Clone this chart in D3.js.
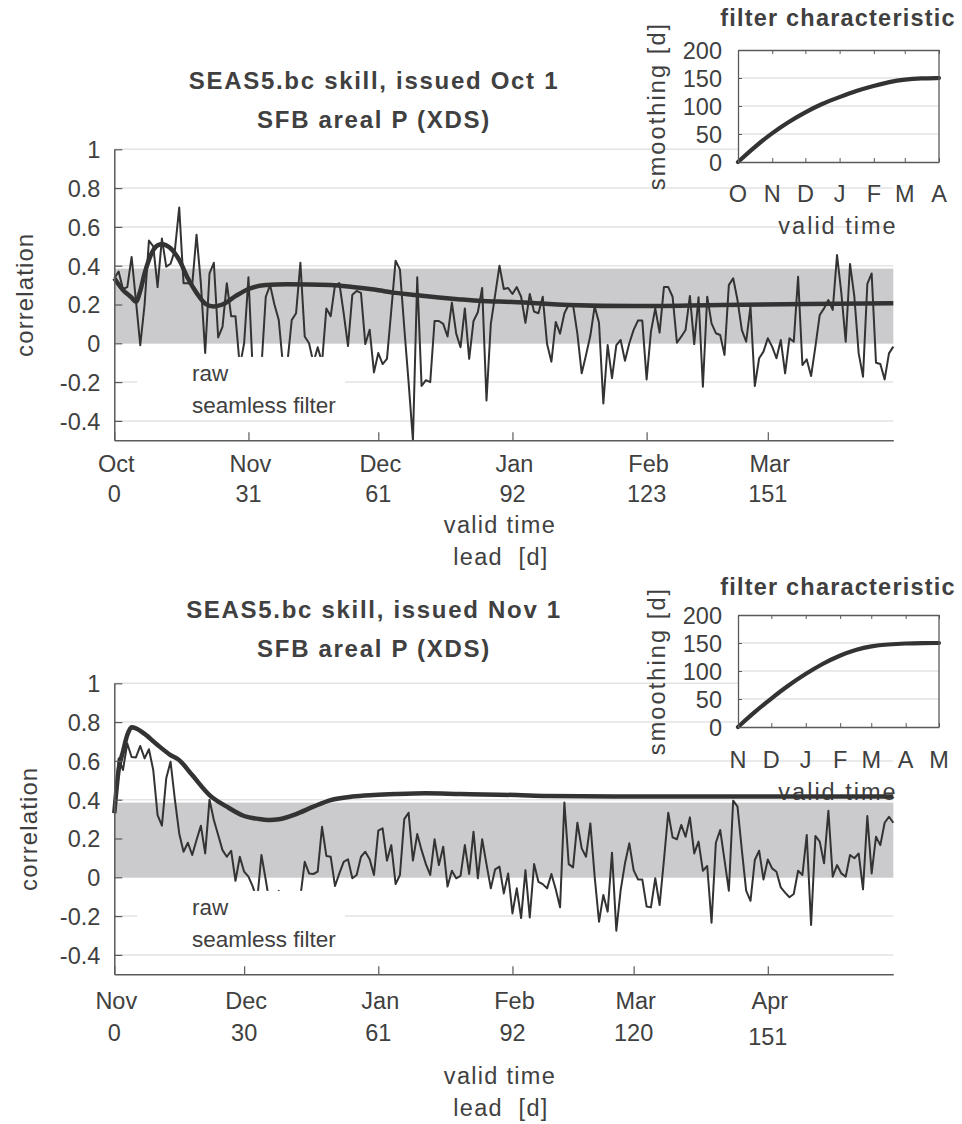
<!DOCTYPE html>
<html><head><meta charset="utf-8">
<script src="https://cdn.jsdelivr.net/npm/d3@7/dist/d3.min.js"></script>
<style>
body{margin:0;background:#fff;}
svg text{font-family:"Liberation Sans",Arial,sans-serif;fill:#404040;}
</style></head><body>
<svg id="c" width="962" height="1124"></svg>
<script>
// ---------------- DATA ----------------
const yTicks = [-0.4,-0.2,0,0.2,0.4,0.6,0.8,1];
const bandTop = 0.385;

// Panel 1: issued Oct 1
const title1 = ["SEAS5.bc skill, issued Oct 1", "SFB areal P (XDS)"];
const monthDays1 = [0,31,61,92,123,151];
const monthNames1 = ["Oct","Nov","Dec","Jan","Feb","Mar"];
const raw1 = [
0.335,0.37,0.28,0.29,0.445,0.22,-0.01,0.2,0.53,0.50,
0.29,0.54,0.395,0.41,0.48,0.70,0.31,0.31,0.30,0.56,
0.31,-0.05,0.36,0.415,0.03,0.085,0.31,0.14,0.14,-0.12,
0.0,0.34,-0.15,-0.2,-0.12,0.24,0.30,0.2,0.12,-0.12,
-0.1,0.12,0.155,0.415,0.035,0.0,-0.1,-0.02,-0.1,0.18,
0.14,0.30,0.31,0.155,-0.014,0.25,0.27,0.26,-0.004,0.07,
-0.15,-0.05,-0.107,-0.08,0.17,0.426,0.38,0.08,-0.2,-0.52,
0.34,-0.22,-0.19,-0.2,0.115,0.115,0.10,0.035,0.21,0.05,
-0.02,0.18,-0.08,0.115,0.16,0.285,-0.295,0.1,0.25,0.40,
0.28,0.285,0.254,0.29,0.24,0.106,0.254,0.163,0.155,0.24,
-0.004,-0.095,0.11,0.05,0.155,0.20,0.198,0.05,-0.155,-0.06,
0.04,0.19,0.106,-0.31,-0.009,-0.18,-0.009,0.017,-0.09,0.0,
0.069,0.117,0.117,-0.186,0.06,0.18,0.055,0.29,0.29,0.24,
0.003,0.034,0.069,0.244,-0.004,0.237,-0.224,0.24,0.103,0.052,
0.043,-0.06,0.30,0.335,0.223,0.069,0.008,0.19,-0.22,-0.077,
-0.043,0.026,-0.017,-0.077,0.017,-0.155,0.026,0.008,0.343,-0.112,
-0.083,-0.169,-0.017,0.146,0.18,0.223,0.172,0.455,0.258,0.008,
0.409,0.24,-0.052,-0.172,0.306,0.36,-0.10,-0.107,-0.186,-0.052,
-0.017];
const filtDays1 = [0,2,4,5,6,7,8,9,10,11,12,13,15,17,19,21,23,25,28,31,35,40,50,55,60,65,70,75,80,85,89,92,105,120,140,160,180];
const filtVals1 = [0.335,0.275,0.236,0.214,0.27,0.36,0.43,0.48,0.505,0.51,0.505,0.49,0.43,0.335,0.26,0.205,0.19,0.20,0.243,0.28,0.30,0.305,0.30,0.29,0.277,0.26,0.248,0.236,0.226,0.218,0.215,0.213,0.198,0.192,0.198,0.203,0.206];

// Panel 2: issued Nov 1
const title2 = ["SEAS5.bc skill, issued Nov 1", "SFB areal P (XDS)"];
const monthDays2 = [0,30,61,92,120,151];
const monthNames2 = ["Nov","Dec","Jan","Feb","Mar","Apr"];
const raw2 = [
0.338,0.613,0.553,0.69,0.62,0.618,0.677,0.613,0.66,0.553,
0.32,0.266,0.51,0.596,0.40,0.226,0.132,0.178,0.115,0.192,
0.266,0.123,0.40,0.295,0.218,0.14,0.106,0.137,-0.018,0.106,
0.029,0.003,-0.048,-0.12,0.115,-0.014,-0.15,-0.12,-0.07,-0.12,
-0.15,-0.12,-0.1,-0.1,0.08,0.02,0.017,0.029,0.26,0.11,
0.106,-0.045,0.02,0.08,0.093,-0.005,0.012,0.106,0.132,0.093,
0.012,0.24,0.252,0.086,0.166,-0.035,0.012,0.30,0.333,0.086,
0.223,0.14,0.068,0.012,0.196,0.063,0.158,-0.048,0.034,-0.005,
0.007,0.166,0.017,0.235,-0.005,0.196,0.068,-0.057,0.041,0.055,
-0.083,0.02,-0.186,-0.057,-0.21,0.037,-0.207,0.068,-0.023,-0.035,
-0.057,0.017,-0.062,-0.155,0.385,0.068,0.051,0.281,0.149,0.106,
0.278,0.003,-0.229,-0.091,-0.177,0.127,-0.275,-0.066,0.072,0.175,
0.037,-0.011,-0.011,-0.151,-0.155,-0.005,-0.143,0.089,0.333,0.206,
0.196,0.27,0.209,0.309,0.123,0.184,0.034,0.058,-0.234,0.178,
0.244,0.089,-0.069,0.395,0.364,0.141,-0.069,-0.121,0.089,0.137,
-0.011,0.092,0.046,0.029,-0.052,-0.079,-0.103,-0.086,0.034,0.012,
0.218,-0.246,0.213,0.184,0.072,0.343,0.003,0.063,0.02,0.003,
0.115,0.098,0.123,-0.062,0.316,0.02,0.209,0.166,0.281,0.312,
0.281];
const filtDays2 = [0,1,2,3,4,5,7,10,13,15,18,22,26,30,34,36,38,42,46,50,55,60,65,72,80,93,100,120,150,180];
const filtVals2 = [0.33,0.553,0.647,0.733,0.773,0.768,0.739,0.682,0.63,0.604,0.527,0.424,0.364,0.316,0.299,0.295,0.299,0.326,0.364,0.398,0.416,0.424,0.429,0.433,0.429,0.424,0.419,0.416,0.416,0.416];

// Insets: filter characteristic
const insetYTicks = [0,50,100,150,200];
const insetTickDays1 = [0,31,61,92,123,151,182];
const insetTickNames1 = ["O","N","D","J","F","M","A"];
const insetDays1 = [0,15,31,46,61,76,92,107,123,137,151,166,182];
const insetVals1 = [0,27,52,72,89,104,116,127,136,143,147.5,149.5,150];
const insetTickDays2 = [0,30,61,92,120,151,181];
const insetTickNames2 = ["N","D","J","F","M","A","M"];
const insetDays2 = [0,15,30,45,61,76,92,106,120,135,151,166,181];
const insetVals2 = [0,27,51,74,95,113,128,138,144.5,147.5,149.3,150,150];

// ---------------- DRAW ----------------
const svg = d3.select("#c");
const TXT = "#404040", LINE = "#333333", AX = "#5a5a5a", GRID = "#e3e3e3", BAND = "#cbcbcd";

function panel(o) {
  const gBack = svg.append("g"), gInset = svg.append("g"), gFront = svg.append("g");
  const x = d3.scaleLinear().domain([0,180]).range([114.3, 893.3]);
  const y = d3.scaleLinear().domain([-0.5,1]).range([o.yb, o.yt]);

  gBack.selectAll("line.grid").data(yTicks).join("line")
    .attr("x1", x(0)).attr("x2", x(180)).attr("y1", d=>y(d)).attr("y2", d=>y(d))
    .attr("stroke", GRID).attr("stroke-width", 1.5);
  gBack.append("rect").attr("x", x(0)).attr("y", y(bandTop))
    .attr("width", x(180)-x(0)).attr("height", y(0)-y(bandTop)).attr("fill", BAND);

  inset(gInset, o.inset);

  gFront.append("path").datum(o.raw)
    .attr("d", d3.line().x((d,i)=>x(i)).y(d=>y(Math.max(d,-0.5))))
    .attr("fill","none").attr("stroke", LINE).attr("stroke-width", 2).attr("stroke-linejoin","round");
  const fd = o.fDays.map((d,i)=>[d,o.fVals[i]]);
  gFront.append("path").datum(fd)
    .attr("d", d3.line().x(d=>x(d[0])).y(d=>y(d[1])).curve(d3.curveMonotoneX))
    .attr("fill","none").attr("stroke", LINE).attr("stroke-width", 4.5).attr("stroke-linejoin","round");

  gFront.append("rect").attr("x", x(5.3)).attr("y", y(-0.07))
    .attr("width", x(53.3)-x(5.3)).attr("height", y(-0.39)-y(-0.07)).attr("fill","#fff");
  gFront.append("text").attr("x", 192).attr("y", o.legY[0]).attr("font-size", 22.5).text("raw");
  gFront.append("text").attr("x", 192).attr("y", o.legY[1]).attr("font-size", 22.5).text("seamless filter");

  const ya = gFront.append("g").attr("transform", `translate(${x(0)},0)`)
    .call(d3.axisLeft(y).tickValues(yTicks).tickSize(-8).tickSizeOuter(0).tickPadding(14)
      .tickFormat(d => String(+d.toFixed(1))));
  ya.select(".domain").attr("stroke", AX).attr("stroke-width", 1.5);
  ya.selectAll(".tick line").attr("stroke", AX).attr("stroke-width", 1.2);
  ya.selectAll(".tick text").attr("font-size", 23.5).attr("fill", TXT)
    .attr("font-family", '"Liberation Sans",Arial,sans-serif').attr("dy", "0.36em");

  const xa = gFront.append("g").attr("transform", `translate(0,${y(-0.5)})`)
    .call(d3.axisBottom(x).tickValues(o.monthDays).tickSize(-8).tickSizeOuter(0).tickFormat(""));
  xa.select(".domain").attr("stroke", AX).attr("stroke-width", 1.5);
  xa.selectAll(".tick line").attr("stroke", AX).attr("stroke-width", 1.2);

  o.monthDays.forEach((d,i) => {
    gFront.append("text").attr("x", x(d) + 2).attr("y", o.mY[0]).attr("text-anchor","middle")
      .attr("font-size", 23.5).text(o.monthNames[i]);
    gFront.append("text").attr("x", x(d)).attr("y", o.mY[1] + (o.numDY ? o.numDY[i] : 0)).attr("text-anchor","middle")
      .attr("font-size", 23.5).text(String(d));
  });

  gFront.append("text").attr("x", 500).attr("y", o.mY[2]).attr("text-anchor","middle")
    .attr("font-size", 23.5).attr("letter-spacing", 1.3).text("valid time");
  gFront.append("text").attr("x", 501).attr("y", o.mY[3]).attr("text-anchor","middle")
    .attr("font-size", 23.5).attr("letter-spacing", 1.3).style("white-space","pre").text("lead  [d]");

  gFront.append("text").attr("transform", `translate(${o.corrX},${(y(1)+y(-0.5))/2}) rotate(-90)`)
    .attr("text-anchor","middle").attr("font-size", 24).attr("letter-spacing", 1.1).text("correlation");

  o.title.forEach((t,i) => {
    gFront.append("text").attr("x", 374).attr("y", o.titleY[i]).attr("text-anchor","middle")
      .attr("font-size", 24).attr("font-weight","bold").attr("letter-spacing", 1.7).text(t);
  });
}

function inset(g, o) {
  const x = d3.scaleLinear().domain([0, o.len]).range([738, 939]);
  const y = d3.scaleLinear().domain([0,200]).range([o.yb, o.yt]);
  g.append("rect").attr("x", 738).attr("y", o.yt).attr("width", 201).attr("height", o.yb-o.yt).attr("fill","#fff");
  g.selectAll("line.ig").data([50,100,150]).join("line")
    .attr("x1", x(0)).attr("x2", x(o.len)).attr("y1", d=>y(d)).attr("y2", d=>y(d))
    .attr("stroke", GRID).attr("stroke-width", 1.5);
  const data = o.days.map((d,i)=>[d,o.vals[i]]);
  g.append("path").datum(data)
    .attr("d", d3.line().x(d=>x(d[0])).y(d=>y(d[1])).curve(d3.curveBasis))
    .attr("fill","none").attr("stroke", LINE).attr("stroke-width", 4.2).attr("stroke-linecap","round");
  const ya = g.append("g").attr("transform","translate(738,0)")
    .call(d3.axisLeft(y).tickValues(insetYTicks).tickSize(-4).tickSizeOuter(0).tickPadding(16));
  ya.select(".domain").attr("stroke", AX).attr("stroke-width", 1.3);
  ya.selectAll(".tick line").attr("stroke", AX);
  ya.selectAll(".tick text").attr("font-size", 23.5).attr("fill", TXT)
    .attr("font-family", '"Liberation Sans",Arial,sans-serif').attr("dy","0.36em");
  const xb = g.append("g").attr("transform",`translate(0,${o.yb})`)
    .call(d3.axisBottom(x).tickValues(o.tickDays).tickSize(-4).tickSizeOuter(0).tickFormat(""));
  const xt = g.append("g").attr("transform",`translate(0,${o.yt})`)
    .call(d3.axisTop(x).tickValues(o.tickDays).tickSize(-4).tickSizeOuter(0).tickFormat(""));
  [xb, xt].forEach(a => { a.select(".domain").attr("stroke", AX).attr("stroke-width", 1.3); a.selectAll(".tick line").attr("stroke", AX); });
  g.append("line").attr("x1", 939).attr("x2", 939).attr("y1", o.yt).attr("y2", o.yb).attr("stroke", AX).attr("stroke-width", 1.3);
  o.tickDays.forEach((d,i) => {
    g.append("text").attr("x", x(d)).attr("y", o.labY[1]).attr("text-anchor","middle").attr("font-size", 23.5).text(o.tickNames[i]);
  });
  g.append("text").attr("x", 838).attr("y", o.labY[0]).attr("text-anchor","middle")
    .attr("font-size", 23.5).attr("font-weight","bold").attr("letter-spacing", 1.2).text("filter characteristic");
  g.append("text").attr("x", 838).attr("y", o.labY[2]).attr("text-anchor","middle")
    .attr("font-size", 23.5).attr("letter-spacing", 2).text("valid time");
  g.append("text").attr("transform", `translate(665,${(o.yt+o.yb)/2}) rotate(-90)`)
    .attr("text-anchor","middle").attr("font-size", 23.5).attr("letter-spacing", 2.1).text("smoothing [d]");
}

panel({
  yt: 149.3, yb: 440.3, raw: raw1, fDays: filtDays1, fVals: filtVals1,
  monthDays: monthDays1, monthNames: monthNames1, mY: [472, 502, 533, 565],
  legY: [381, 413], corrX: 33, title: title1, titleY: [89, 128],
  inset: {len: 182, yt: 50, yb: 162, days: insetDays1, vals: insetVals1,
          tickDays: insetTickDays1, tickNames: insetTickNames1, labY: [26, 202, 234]}
});
panel({
  yt: 683.3, yb: 974.3, raw: raw2, fDays: filtDays2, fVals: filtVals2,
  monthDays: monthDays2, monthNames: monthNames2, mY: [1009, 1041, 1084, 1116], numDY: [0,0,0,0,0,4],
  legY: [915, 947], corrX: 37, title: title2, titleY: [618, 657],
  inset: {len: 181, yt: 615, yb: 727, days: insetDays2, vals: insetVals2,
          tickDays: insetTickDays2, tickNames: insetTickNames2, labY: [595, 768, 800]}
});
</script></body></html>
